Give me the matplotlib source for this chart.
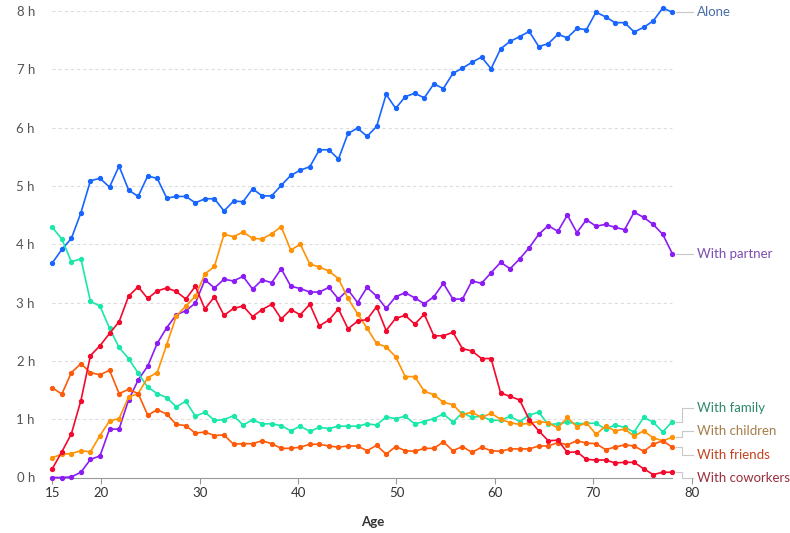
import matplotlib.pyplot as plt
import numpy as np

plt.rcParams['font.family'] = ['Lato', 'DejaVu Sans']

ages = list(range(15, 81))

alone = [3.68, 3.91, 4.10, 4.54, 5.09, 5.13, 4.98, 5.34, 4.93, 4.82,
         5.17, 5.13, 4.79, 4.82, 4.82, 4.71, 4.78, 4.78, 4.57, 4.74,
         4.73, 4.95, 4.83, 4.83, 5.01, 5.18, 5.27, 5.33, 5.62, 5.62,
         5.46, 5.90, 5.99, 5.85, 6.02, 6.57, 6.33, 6.53, 6.59, 6.51,
         6.75, 6.67, 6.93, 7.02, 7.12, 7.21, 7.01, 7.35, 7.48, 7.56,
         7.65, 7.39, 7.44, 7.60, 7.54, 7.70, 7.68, 7.98, 7.90, 7.80,
         7.80, 7.64, 7.72, 7.83, 8.05, 7.98]
partner = [0.00, 0.00, 0.01, 0.09, 0.31, 0.37, 0.83, 0.83, 1.33, 1.67,
           1.91, 2.30, 2.57, 2.79, 2.86, 2.99, 3.39, 3.25, 3.40, 3.37,
           3.45, 3.23, 3.39, 3.34, 3.58, 3.28, 3.24, 3.18, 3.18, 3.26,
           3.06, 3.22, 3.00, 3.26, 3.11, 2.90, 3.10, 3.17, 3.08, 2.98,
           3.10, 3.33, 3.06, 3.06, 3.37, 3.33, 3.51, 3.69, 3.58, 3.75,
           3.94, 4.17, 4.32, 4.22, 4.50, 4.20, 4.42, 4.31, 4.34, 4.29,
           4.25, 4.55, 4.46, 4.34, 4.17, 3.84]
family = [4.29, 4.09, 3.70, 3.75, 3.02, 2.94, 2.56, 2.23, 2.04, 1.79,
          1.55, 1.44, 1.37, 1.21, 1.31, 1.05, 1.12, 0.98, 0.99, 1.06,
          0.90, 0.99, 0.92, 0.92, 0.89, 0.80, 0.88, 0.79, 0.86, 0.84,
          0.88, 0.88, 0.88, 0.92, 0.90, 1.04, 1.01, 1.05, 0.92, 0.96,
          1.01, 1.09, 0.95, 1.11, 1.03, 1.05, 0.98, 0.98, 1.05, 0.96,
          1.07, 1.12, 0.91, 0.92, 0.95, 0.92, 0.93, 0.93, 0.83, 0.90,
          0.86, 0.78, 1.03, 0.95, 0.78, 0.96]
children = [0.34, 0.40, 0.41, 0.46, 0.44, 0.72, 0.97, 1.01, 1.38, 1.44,
            1.71, 1.80, 2.28, 2.77, 2.94, 3.11, 3.49, 3.62, 4.17, 4.13,
            4.21, 4.10, 4.09, 4.18, 4.30, 3.90, 4.00, 3.66, 3.61, 3.54,
            3.41, 3.07, 2.81, 2.56, 2.30, 2.24, 2.07, 1.73, 1.73, 1.48,
            1.42, 1.29, 1.25, 1.08, 1.12, 1.03, 1.10, 1.00, 0.94, 0.91,
            0.93, 0.96, 0.94, 0.85, 1.03, 0.87, 0.94, 0.74, 0.88, 0.80,
            0.83, 0.71, 0.80, 0.68, 0.63, 0.69]
friends = [1.54, 1.43, 1.80, 1.95, 1.80, 1.76, 1.84, 1.44, 1.51, 1.44,
           1.07, 1.16, 1.09, 0.91, 0.89, 0.76, 0.78, 0.72, 0.73, 0.57,
           0.58, 0.58, 0.63, 0.58, 0.50, 0.50, 0.52, 0.57, 0.57, 0.54,
           0.52, 0.54, 0.54, 0.46, 0.55, 0.40, 0.53, 0.46, 0.45, 0.50,
           0.50, 0.61, 0.46, 0.53, 0.43, 0.52, 0.46, 0.45, 0.49, 0.49,
           0.49, 0.54, 0.54, 0.60, 0.56, 0.63, 0.59, 0.58, 0.48, 0.52,
           0.56, 0.54, 0.45, 0.57, 0.63, 0.52]
coworkers = [0.15, 0.44, 0.75, 1.32, 2.09, 2.26, 2.47, 2.67, 3.11, 3.27,
             3.07, 3.20, 3.25, 3.19, 3.06, 3.28, 2.89, 3.10, 2.78, 2.90,
             2.94, 2.76, 2.88, 2.97, 2.72, 2.88, 2.79, 2.97, 2.60, 2.70,
             2.89, 2.55, 2.68, 2.71, 2.93, 2.52, 2.73, 2.78, 2.63, 2.80,
             2.43, 2.43, 2.49, 2.21, 2.17, 2.04, 2.04, 1.45, 1.39, 1.33,
             0.99, 0.80, 0.63, 0.64, 0.43, 0.44, 0.31, 0.30, 0.30, 0.25,
             0.26, 0.26, 0.15, 0.05, 0.09, 0.09]

names = ['Alone', 'With partner', 'With family', 'With children',
         'With friends', 'With coworkers']
series = [alone, partner, family, children, friends, coworkers]
line_colors = ['#1865ff', '#8c1cf5', '#19e8aa', '#ff9205', '#ff5a0a', '#f4092d']
text_colors = ['#4a6da7', '#7b4cb2', '#2e8a6a', '#a57c48', '#c4431c', '#9b2f3e']
# label heights (hours) after de-overlapping on the right side
label_y = [7.98, 3.84, 1.20, 0.80, 0.39, -0.01]

hour_ticks = list(range(0, 9))
age_ticks = [15, 20, 30, 40, 50, 60, 70, 80]

fig = plt.figure(figsize=(7.9, 5.33), dpi=100)
ax = fig.add_axes([52.3 / 790, 55.5 / 533, 648.6 / 790, 466.5 / 533])
ax.set_xlim(15, 83)
ax.set_ylim(0, 8)

# dashed gridlines only over the data range
for h in hour_ticks[1:]:
    ax.plot([15, 80], [h, h], color='#dddddd', lw=0.8,
            linestyle=(0, (3, 2.5)), zorder=0)

for name, vals, lc in zip(names, series, line_colors):
    ax.plot(ages, vals, color=lc, lw=1.2, marker='o', markersize=2.8,
            clip_on=False, zorder=3)

# right-side labels with elbow connectors
for vals, txt, tc, ly in zip(series, names, text_colors, label_y):
    last = vals[-1]
    ax.plot([80.39, 81.02, 81.02, 82.17], [last, last, ly, ly],
            color='#c8c8c8', lw=0.8, clip_on=False, zorder=1)
    ax.text(82.6, ly, txt, color=tc, fontsize=9.5, va='center',
            ha='left', clip_on=False)

for s in ['top', 'right', 'left']:
    ax.spines[s].set_visible(False)
ax.spines['bottom'].set_bounds(15, 80)
ax.spines['bottom'].set_color('#999999')
ax.spines['bottom'].set_linewidth(0.8)

# the reference's age ticks sit slightly wider apart than the yearly points
ax.set_xticks([15 + (t - 15) * 1.031 for t in age_ticks])
ax.set_xticklabels([str(t) for t in age_ticks])
ax.tick_params(axis='x', length=4.5, width=0.8, color='#999999',
               labelcolor='#333333', labelsize=9.5, pad=2)
ax.set_yticks(hour_ticks)
ax.set_yticklabels([f'{h} h' for h in hour_ticks])
ax.tick_params(axis='y', length=0, labelcolor='#555555', labelsize=9.5,
               pad=12.5)

ax.set_xlabel('Age', fontsize=9.5, fontweight='bold', color='#333333')
ax.xaxis.set_label_coords(0.494, -0.082)

fig.savefig('out.png', dpi=100)
